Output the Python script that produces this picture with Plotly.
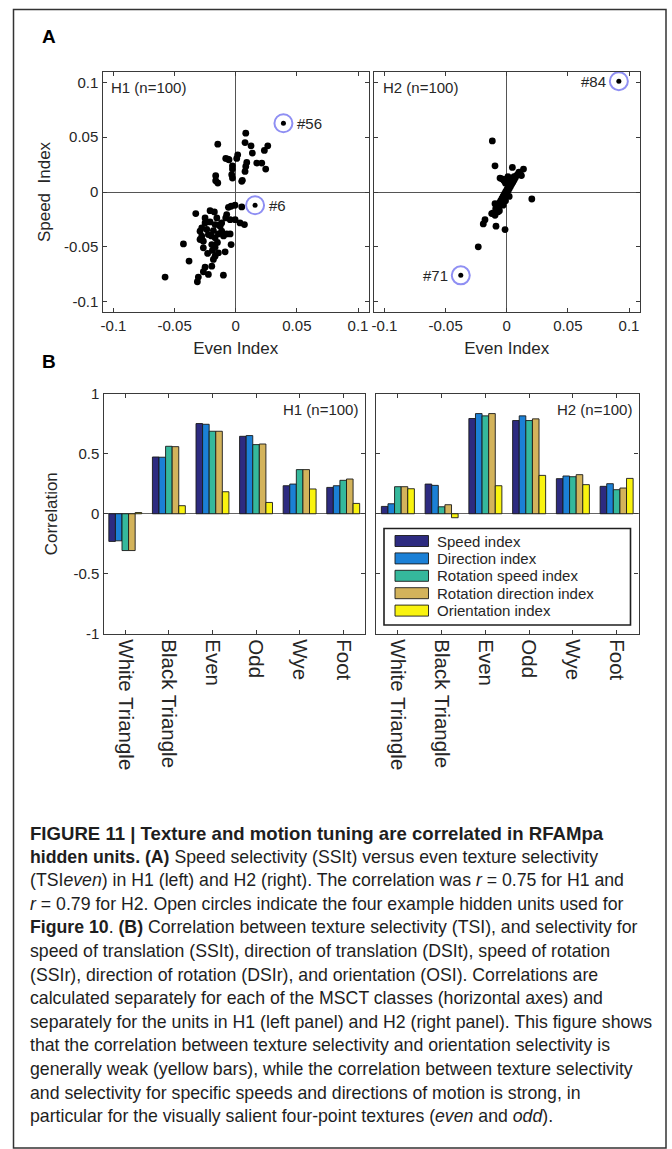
import plotly.graph_objects as go

W, H = 672, 1149

# ---------------- Panel A data ----------------
h1_even = [
    -0.0147, 0.0082, 0.0076, 0.0125, 0.0136, 0.0262, 0.0234, -0.0082, -0.0055, 0.0016,
    0.0008, -0.0027, -0.0027, -0.0033, -0.0027, 0.0090, 0.0082, 0.0076, 0.0054, 0.0172,
    0.0213, 0.0245, -0.0164, -0.0164, -0.0147, 0.0049, -0.0065,
    -0.0038, -0.0006, -0.0060, 0.0049, -0.0327, -0.0210, -0.0175, -0.0074, -0.0082, -0.0046,
    -0.0005, 0.0035, 0.0071, -0.0251, -0.0210, -0.0169, -0.0128, -0.0278, -0.0292, -0.0237,
    -0.0183, -0.0142, -0.0115, -0.0278, -0.0224, -0.0169, -0.0074, -0.0046, -0.0265, -0.0292,
    -0.0196, -0.0038, -0.0428, -0.0265, -0.0169, -0.0191, -0.0142, -0.0087, -0.0169, -0.0382,
    -0.0183, -0.0196, -0.0251, -0.0265, -0.0224, -0.0101, -0.0306, -0.0314, -0.0578, -0.0115,
    -0.0155, -0.0251, -0.0135, -0.0200, -0.0150, -0.0230, -0.0100,
]
h1_speed = [
    0.0436, 0.0536, 0.0451, 0.0421, 0.0355, 0.0421, 0.0379, 0.0306, 0.0294, 0.0339,
    0.0306, 0.0239, 0.0209, 0.0158, 0.0127, 0.0270, 0.0233, 0.0188, 0.0106, 0.0264,
    0.0264, 0.0209, 0.0148, 0.0103, 0.0082, 0.0097, 0.0300,
    -0.0130, -0.0121, -0.0140, -0.0136, -0.0197, -0.0170, -0.0182, -0.0206, -0.0236, -0.0252,
    -0.0252, -0.0282, -0.0297, -0.0282, -0.0273, -0.0297, -0.0312, -0.0327, -0.0358, -0.0342,
    -0.0352, -0.0382, -0.0358, -0.0403, -0.0388, -0.0418, -0.0382, -0.0382, -0.0449, -0.0433,
    -0.0479, -0.0479, -0.0473, -0.0509, -0.0503, -0.0533, -0.0555, -0.0545, -0.0585, -0.0630,
    -0.0615, -0.0676, -0.0685, -0.0727, -0.0751, -0.0758, -0.0776, -0.0818, -0.0776, -0.0282,
    -0.0236, -0.0236, -0.0300, -0.0400, -0.0460, -0.0560, -0.0400,
]
h1_ex_labels = ["#56", "#6"]
h1_ex_even = [0.0390, 0.0158]
h1_ex_speed = [0.0627, -0.0121]

h2_even = [
    -0.0118, -0.0096, 0.0046, 0.0137, 0.0109, -0.0055, -0.0028, 0.0205, -0.0096, -0.0110,
    -0.0178, -0.0192, -0.0088, -0.0014, -0.0233, -0.0123, -0.0096,
    -0.0080, -0.0070, -0.0060, -0.0060, -0.0050, -0.0050, -0.0040, -0.0040, -0.0030, -0.0030,
    -0.0020, -0.0020, -0.0010, -0.0010, 0.0000, 0.0000, 0.0010, 0.0010, 0.0020, 0.0020,
    0.0030, 0.0030, 0.0040, 0.0040, 0.0050, 0.0050, 0.0060, 0.0060, 0.0070, 0.0080,
    0.0090, -0.0020, -0.0010, 0.0000, 0.0010, -0.0040, -0.0070, -0.0090, -0.0030, -0.0010,
    0.0020, 0.0100, 0.0120, -0.0060,
]
h2_speed = [
    0.0466, 0.0239, 0.0224, 0.0209, 0.0173, 0.0127, 0.0112, -0.0064, -0.0106, -0.0191,
    -0.0252, -0.0291, -0.0312, -0.0343, -0.0500, -0.0197, -0.0212,
    -0.0160, -0.0140, -0.0130, -0.0100, -0.0110, -0.0080, -0.0090, -0.0060, -0.0070, -0.0040,
    -0.0050, -0.0020, -0.0030, 0.0000, -0.0010, 0.0020, 0.0010, 0.0040, 0.0030, 0.0060,
    0.0050, 0.0080, 0.0070, 0.0100, 0.0090, 0.0120, 0.0110, 0.0140, 0.0130, 0.0150,
    0.0160, 0.0100, 0.0080, 0.0120, 0.0140, 0.0120, -0.0180, -0.0150, -0.0120, -0.0080,
    -0.0040, 0.0180, 0.0150, -0.0170,
]
h2_ex_labels = ["#84", "#71"]
h2_ex_even = [0.0917, -0.0376]
h2_ex_speed = [0.1010, -0.0760]

scatter_ticks = [-0.1, -0.05, 0, 0.05, 0.1]
scatter_ticktext = ["-0.1", "-0.05", "0", "0.05", "0.1"]

# ---------------- Panel B data ----------------
categories = ["White Triangle", "Black Triangle", "Even", "Odd", "Wye", "Foot"]
series_names = ["Speed index", "Direction index", "Rotation speed index",
                "Rotation direction index", "Orientation index"]
series_colors = ["#2d2b80", "#1b80d6", "#35b89c", "#d3b35b", "#f9f30f"]

h1_speed_idx = [-0.230, 0.472, 0.750, 0.644, 0.233, 0.219]
h1_direction_idx = [-0.225, 0.470, 0.744, 0.650, 0.247, 0.233]
h1_rot_speed_idx = [-0.306, 0.561, 0.686, 0.575, 0.367, 0.278]
h1_rot_dir_idx = [-0.306, 0.558, 0.686, 0.580, 0.367, 0.289]
h1_orient_idx = [0.010, 0.067, 0.183, 0.094, 0.206, 0.086]

h2_speed_idx = [0.061, 0.247, 0.792, 0.775, 0.292, 0.228]
h2_direction_idx = [0.083, 0.236, 0.833, 0.814, 0.314, 0.250]
h2_rot_speed_idx = [0.225, 0.058, 0.814, 0.775, 0.308, 0.200]
h2_rot_dir_idx = [0.225, 0.075, 0.833, 0.789, 0.325, 0.214]
h2_orient_idx = [0.208, -0.033, 0.233, 0.319, 0.242, 0.294]

corr_ticks = [-1, -0.5, 0, 0.5, 1]
corr_ticktext = ["-1", "-0.5", "0", "0.5", "1"]

caption_lines = [
    "<b>FIGURE 11 | Texture and motion tuning are correlated in RFAMpa</b>",
    "<b>hidden units. (A)</b> Speed selectivity (SSIt) versus even texture selectivity",
    "(TSI<i>even</i>) in H1 (left) and H2 (right). The correlation was <i>r</i> = 0.75 for H1 and",
    "<i>r</i> = 0.79 for H2. Open circles indicate the four example hidden units used for",
    "<b>Figure 10</b>. <b>(B)</b> Correlation between texture selectivity (TSI), and selectivity for",
    "speed of translation (SSIt), direction of translation (DSIt), speed of rotation",
    "(SSIr), direction of rotation (DSIr), and orientation (OSI). Correlations are",
    "calculated separately for each of the MSCT classes (horizontal axes) and",
    "separately for the units in H1 (left panel) and H2 (right panel). This figure shows",
    "that the correlation between texture selectivity and orientation selectivity is",
    "generally weak (yellow bars), while the correlation between texture selectivity",
    "and selectivity for specific speeds and directions of motion is strong, in",
    "particular for the visually salient four-point textures (<i>even</i> and <i>odd</i>).",
]

# ---------------- helpers ----------------
FONT = "Liberation Sans, Arial, sans-serif"
AXC = "#3a3a3a"
TXT = "#262626"


def px(x):
    return x / W


def py(y):
    return 1 - y / H


fig = go.Figure()

# ---- Panel A scatters ----
for xs, ys, lx, ly, xa, ya in [
    (h1_even, h1_speed, h1_ex_even, h1_ex_speed, "x", "y"),
    (h2_even, h2_speed, h2_ex_even, h2_ex_speed, "x2", "y2"),
]:
    fig.add_trace(go.Scatter(x=xs, y=ys, mode="markers", xaxis=xa, yaxis=ya,
                             marker=dict(color="black", size=6.8), hoverinfo="skip"))
    fig.add_trace(go.Scatter(x=lx, y=ly, mode="markers", xaxis=xa, yaxis=ya,
                             marker=dict(symbol="circle-open", color="#8f8ff3", size=18,
                                         line=dict(width=2)), hoverinfo="skip"))
    fig.add_trace(go.Scatter(x=lx, y=ly, mode="markers", xaxis=xa, yaxis=ya,
                             marker=dict(color="black", size=5), hoverinfo="skip"))

annotations = []
for lab, xv, yv in zip(h1_ex_labels, h1_ex_even, h1_ex_speed):
    annotations.append(dict(x=xv, y=yv, xref="x", yref="y", text=lab, showarrow=False,
                            xanchor="left", xshift=12, font=dict(size=15, color=TXT, family=FONT)))
for lab, xv, yv in zip(h2_ex_labels, h2_ex_even, h2_ex_speed):
    annotations.append(dict(x=xv, y=yv, xref="x2", yref="y2", text=lab, showarrow=False,
                            xanchor="right", xshift=-11, font=dict(size=15, color=TXT, family=FONT)))

# ---- Panel B bars ----
h1_series = [h1_speed_idx, h1_direction_idx, h1_rot_speed_idx, h1_rot_dir_idx, h1_orient_idx]
h2_series = [h2_speed_idx, h2_direction_idx, h2_rot_speed_idx, h2_rot_dir_idx, h2_orient_idx]
for series, xa, ya in [(h1_series, "x3", "y3"), (h2_series, "x4", "y4")]:
    for name, col, vals in zip(series_names, series_colors, series):
        fig.add_trace(go.Bar(x=categories, y=vals, name=name, xaxis=xa, yaxis=ya,
                             marker=dict(color=col, line=dict(color="#1a1a1a", width=0.9)),
                             hoverinfo="skip"))

# ---- axes ----
base = dict(showline=True, linecolor=AXC, linewidth=1.4, mirror="ticks", ticks="inside",
            ticklen=4, tickcolor=AXC, showgrid=False,
            tickfont=dict(size=15, color=TXT, family=FONT))
scat_x = dict(base, range=[-0.109, 0.109], tickvals=scatter_ticks, ticktext=scatter_ticktext,
              zeroline=True, zerolinecolor="#555", zerolinewidth=1)
scat_y = dict(base, range=[-0.1094, 0.1094], tickvals=scatter_ticks, ticktext=scatter_ticktext,
              zeroline=True, zerolinecolor="#555", zerolinewidth=1)
ydomA = [py(312), py(72)]
ydomB = [py(634), py(393.5)]

title_font = dict(size=17, color=TXT, family=FONT)
cat_font = dict(size=20.5, color=TXT, family=FONT)
fig.update_layout(
    xaxis=dict(scat_x, domain=[px(102.5), px(369)], anchor="y",
               title=dict(text="Even Index", font=title_font, standoff=8)),
    yaxis=dict(scat_y, domain=ydomA, anchor="x",
               title=dict(text="Speed  Index", font=title_font, standoff=9)),
    xaxis2=dict(scat_x, domain=[px(373.5), px(640)], anchor="y2",
                title=dict(text="Even Index", font=title_font, standoff=8)),
    yaxis2=dict(scat_y, domain=ydomA, anchor="x2", showticklabels=False),
    xaxis3=dict(base, domain=[px(103.5), px(365)], anchor="y3", range=[-0.5, 5.5],
                tickangle=90, tickfont=cat_font),
    yaxis3=dict(base, domain=ydomB, anchor="x3", range=[-1, 1], tickvals=corr_ticks,
                ticktext=corr_ticktext, zeroline=True, zerolinecolor="#666", zerolinewidth=1,
                title=dict(text="Correlation", font=title_font, standoff=11)),
    xaxis4=dict(base, domain=[px(376), px(638.5)], anchor="y4", range=[-0.5, 5.5],
                tickangle=90, tickfont=cat_font),
    yaxis4=dict(base, domain=ydomB, anchor="x4", range=[-1, 1], tickvals=corr_ticks,
                showticklabels=False, zeroline=True, zerolinecolor="#666", zerolinewidth=1),
    barmode="group", bargap=0.245, bargroupgap=0,
)

# panel inset labels
for text, x, y, anc in [("H1 (n=100)", 109, 87, "left"), ("H2 (n=100)", 381, 87, "left"),
                        ("H1 (n=100)", 360, 410, "right"), ("H2 (n=100)", 634, 410, "right")]:
    annotations.append(dict(x=px(x), y=py(y), xref="paper", yref="paper", text=text,
                            showarrow=False, xanchor=anc, yanchor="middle",
                            font=dict(size=15, color=TXT, family=FONT)))

# panel letters
for text, y in [("A", 36), ("B", 362)]:
    annotations.append(dict(x=px(40), y=py(y), xref="paper", yref="paper", text="<b>%s</b>" % text,
                            showarrow=False, xanchor="left", yanchor="middle",
                            font=dict(size=19, color="black", family=FONT)))

# manual legend (wide swatches like the original)
shapes = []
shapes.append(dict(type="rect", xref="paper", yref="paper", x0=px(384), x1=px(630.5),
                   y0=py(625), y1=py(528.5), line=dict(color="#1f1f1f", width=1.6),
                   fillcolor="white", layer="above"))
row_y = [541, 558.4, 575.8, 593.2, 610.6]
for name, col, ry in zip(series_names, series_colors, row_y):
    shapes.append(dict(type="rect", xref="paper", yref="paper", x0=px(395), x1=px(428.5),
                       y0=py(ry + 5.5), y1=py(ry - 5.5), fillcolor=col,
                       line=dict(color="#1a1a1a", width=0.9), layer="above"))
    annotations.append(dict(x=px(435), y=py(ry), xref="paper", yref="paper", text=name,
                            showarrow=False, xanchor="left", yanchor="middle",
                            font=dict(size=15, color=TXT, family=FONT)))

# outer frame
shapes.append(dict(type="rect", xref="paper", yref="paper", x0=px(13.5), x1=px(666),
                   y0=py(1148), y1=py(9.5), line=dict(color="#333", width=1.5),
                   fillcolor="rgba(0,0,0,0)", layer="below"))

# caption
for i, line in enumerate(caption_lines):
    size = 18.6 if i == 0 else 17.7
    annotations.append(dict(x=px(28), y=py(833 + 23.6 * i), xref="paper", yref="paper",
                            text=line, showarrow=False, xanchor="left", yanchor="middle",
                            font=dict(size=size, color="#1e1e1e", family=FONT)))

fig.update_layout(
    width=W, height=H, margin=dict(l=0, r=0, t=0, b=0, autoexpand=False),
    paper_bgcolor="white", plot_bgcolor="white", showlegend=False,
    annotations=annotations, shapes=shapes,
)

fig.write_html("out.html", config={"displayModeBar": False},
               post_script="document.body.style.margin='0';document.body.style.padding='0';")
